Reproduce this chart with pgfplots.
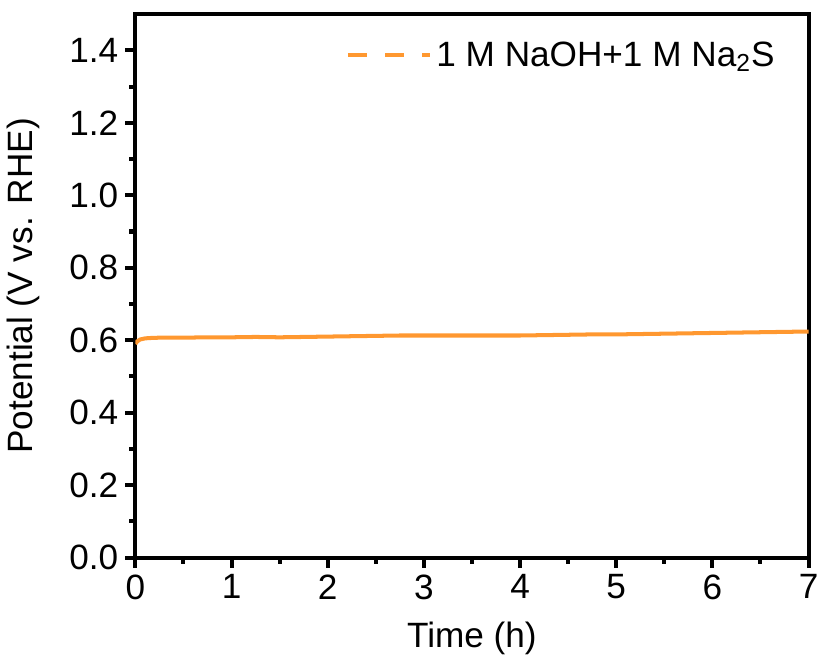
\documentclass[border=0pt]{standalone}
\usepackage{fontspec}
\setmainfont{Liberation Sans}
\usepackage{pgfplots}
\pgfplotsset{compat=1.18}
\definecolor{lineor}{RGB}{255,152,48}

\begin{document}
\begin{tikzpicture}
\begin{axis}[
    scale only axis,
    width=335pt, height=270.5pt,
    xmin=0, xmax=7, ymin=0, ymax=1.5,
    xtick={0,1,...,7}, ytick={0,0.2,...,1.4},
    minor tick num=1,
    xtick pos=bottom, ytick pos=left,
    tick align=outside,
    major tick length=5pt, minor tick length=3pt,
    every tick/.style={line width=2pt, black},
    axis line style={line width=2pt},
    font=\fontsize{17.5pt}{20pt}\selectfont,
    ticklabel style={font=\fontsize{17.5pt}{20pt}\selectfont},
    /pgf/number format/assume math mode=true,
    yticklabel style={/pgf/number format/.cd, fixed, fixed zerofill, precision=1},
    xlabel={Time (h)}, ylabel={Potential (V vs. RHE)},
    xlabel style={yshift=-4pt}, ylabel style={yshift=8pt},
    legend style={draw=none, fill=none, at={(0.965,0.965)}, anchor=north east,
        font=\fontsize{17.5pt}{20pt}\selectfont},
    legend cell align=left,
    legend image code/.code={\draw[#1, dash pattern=on 9.5pt off 9pt, line width=2pt] (0pt,0pt) -- (41pt,0pt);},
]
\addplot[lineor, line width=2pt] coordinates {
    (0.00,0.590) (0.02,0.597) (0.05,0.602) (0.10,0.605) (0.15,0.606)
    (0.25,0.607) (0.50,0.607) (0.75,0.608) (1.00,0.608) (1.25,0.609)
    (1.50,0.608) (1.75,0.609) (2.00,0.610) (2.25,0.611) (2.50,0.612)
    (2.75,0.613) (3.00,0.613) (3.25,0.613) (3.50,0.613) (3.75,0.613)
    (4.00,0.613) (4.25,0.614) (4.50,0.615) (4.75,0.616) (5.00,0.616)
    (5.25,0.617) (5.50,0.618) (5.75,0.619) (6.00,0.620) (6.25,0.621)
    (6.50,0.622) (6.75,0.623) (7.00,0.624)
};
\addlegendentry{1 M NaOH+1 M Na\textsubscript{2}S}
\end{axis}
\path (current axis.north west) ++(0,7pt) coordinate (tl);
\path (current axis.north east) ++(5pt,0) coordinate (tr);
\useasboundingbox (current bounding box.south west) rectangle (tr |- tl);
\end{tikzpicture}
\end{document}
